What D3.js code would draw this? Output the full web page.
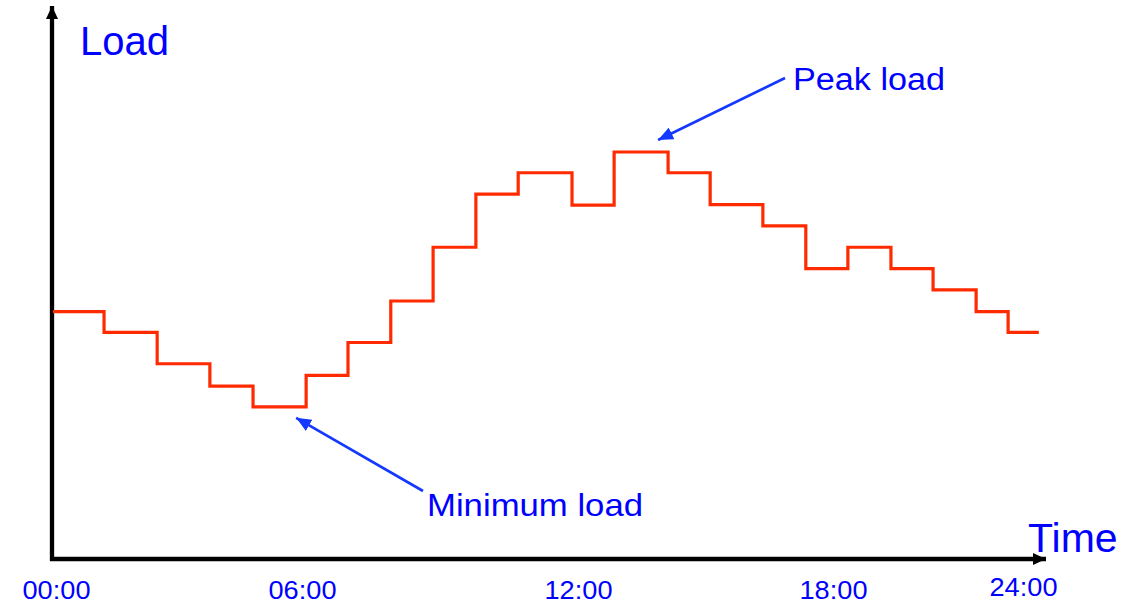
<!DOCTYPE html>
<html>
<head>
<meta charset="utf-8">
<script src="https://cdn.jsdelivr.net/npm/d3@7"></script>
<style>
  html, body { margin: 0; padding: 0; background: #fff; }
  text { font-family: "Liberation Sans", Arial, sans-serif; }
</style>
</head>
<body>
<div id="chart"></div>
<script>
/* data */
const stepStart = [0, 1.23, 2.51, 3.78, 4.82, 6.09, 7.0, 7.93, 8.85, 9.78, 10.70,
                   11.87, 12.85, 14.12, 15.11, 16.35, 17.36, 18.47, 19.83, 21.16, 22.52, 23.53];
const stepEnd = 24.5;
const load = [46.5, 42.6, 36.7, 32.5, 28.6, 34.5, 40.7, 48.5, 58.6, 68.6, 72.6,
              66.5, 76.5, 72.6, 66.6, 62.6, 54.6, 58.6, 54.6, 50.6, 46.5, 42.6];
const tickHours = [0, 6, 12, 18, 24];
const tickLabels = ["00:00", "06:00", "12:00", "18:00", "24:00"];

const W = 1148, H = 606;
const blue = "#0000ff", arrowBlue = "#1438ff", red = "#ff2a00";

const svg = d3.select("#chart").append("svg")
    .attr("width", W).attr("height", H);

/* scales (x is drawn unevenly in the original slide) */
const x = d3.scaleLinear().domain(tickHours).range([53, 302, 578, 833, 1023]);
const y = d3.scaleLinear().domain([0, 100]).range([559, 27]);

/* arrow heads */
const defs = svg.append("defs");
const marker = function(id, color, len, half) {
    defs.append("marker")
        .attr("id", id)
        .attr("viewBox", `0 ${-half} ${len} ${half * 2}`)
        .attr("refX", len).attr("refY", 0)
        .attr("markerUnits", "userSpaceOnUse")
        .attr("markerWidth", len).attr("markerHeight", half * 2)
        .attr("orient", "auto")
        .append("path")
        .attr("d", `M0,${-half}L${len},0L0,${half}Z`)
        .attr("fill", color);
}
marker("axisHead", "#000", 13, 6);
marker("noteHead", arrowBlue, 15, 6.5);

/* axes */
const x0 = x(0) - 1, yBase = y(0);
svg.append("line")
    .attr("x1", x0).attr("y1", yBase + 2)
    .attr("x2", x0).attr("y2", 6)
    .attr("stroke", "#000").attr("stroke-width", 4.3)
    .attr("marker-end", "url(#axisHead)");
svg.append("line")
    .attr("x1", x0 - 2).attr("y1", yBase)
    .attr("x2", 1046).attr("y2", yBase)
    .attr("stroke", "#000").attr("stroke-width", 4.3)
    .attr("marker-end", "url(#axisHead)");

/* tick labels */
const xAxis = svg.append("g")
    .attr("transform", `translate(0, ${yBase})`)
    .call(d3.axisBottom(x).tickValues(tickHours)
            .tickFormat((d, i) => tickLabels[i]).tickSize(0));
xAxis.select(".domain").remove();
xAxis.selectAll("text")
    .attr("y", 0).attr("dy", null)
    .attr("transform", (d, i) => `translate(${i == 0 ? 3 : 0}, ${i == 4 ? 37 : 40})`)
    .attr("fill", blue)
    .style("font-size", "25px")
    .style("font-family", "'Liberation Sans', Arial, sans-serif")
    .attr("textLength", 68).attr("lengthAdjust", "spacingAndGlyphs");

/* step load curve */
const pts = stepStart.map((h, i) => [h, load[i]]);
pts.push([stepEnd, load[load.length - 1]]);
const stepLine = d3.line()
    .x(d => x(d[0])).y(d => y(d[1]))
    .curve(d3.curveStepAfter);
svg.append("path")
    .datum(pts)
    .attr("d", stepLine)
    .attr("fill", "none")
    .attr("stroke", red)
    .attr("stroke-width", 3.2);

/* axis titles */
svg.append("text").attr("x", 80).attr("y", 55)
    .attr("fill", blue).style("font-size", "40px").text("Load");
svg.append("text").attr("x", 1028).attr("y", 552)
    .attr("fill", blue).style("font-size", "41px").text("Time");

/* annotations */
const iPeak = load.indexOf(d3.max(load));
const iMin = load.indexOf(d3.min(load));
const peakX = x(stepStart[iPeak + 1]) - 10;
const minX = x(stepStart[iMin + 1]) - 10;

svg.append("line")
    .attr("x1", 785).attr("y1", 78)
    .attr("x2", peakX).attr("y2", y(load[iPeak]) - 12)
    .attr("stroke", arrowBlue).attr("stroke-width", 2.6)
    .attr("marker-end", "url(#noteHead)");
svg.append("text").attr("x", 793).attr("y", 90)
    .attr("fill", blue).style("font-size", "31px")
    .attr("textLength", 152).attr("lengthAdjust", "spacingAndGlyphs")
    .text("Peak load");

svg.append("line")
    .attr("x1", 423).attr("y1", 491)
    .attr("x2", minX).attr("y2", y(load[iMin]) + 11)
    .attr("stroke", arrowBlue).attr("stroke-width", 2.6)
    .attr("marker-end", "url(#noteHead)");
svg.append("text").attr("x", 427).attr("y", 516)
    .attr("fill", blue).style("font-size", "32px")
    .attr("textLength", 216).attr("lengthAdjust", "spacingAndGlyphs")
    .text("Minimum load");
</script>
</body>
</html>
